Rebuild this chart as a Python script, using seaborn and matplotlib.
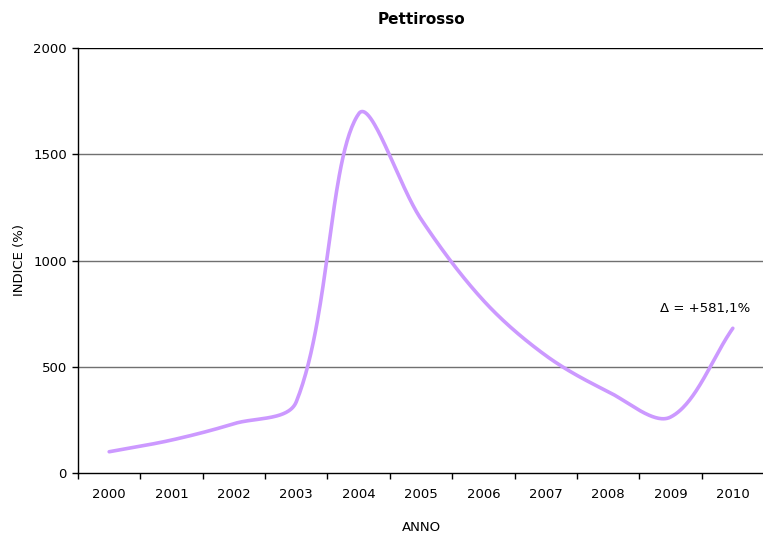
import numpy as np
import pandas as pd
import matplotlib
matplotlib.use("Agg")
import matplotlib.pyplot as plt
import seaborn as sns

# Annual index values for the robin (Pettirosso), base year 2000 = 100
years = ["2000", "2001", "2002", "2003", "2004", "2005",
         "2006", "2007", "2008", "2009", "2010"]
index_values = [100, 155, 232, 335, 1690, 1195, 812, 553, 383, 263, 681.1]
change_label = "\u0394 = +581,1%"

sns.set_theme(style="white")
plt.rcParams["font.family"] = ["DejaVu Sans"]

FIG_W, FIG_H = 763, 537
AX_L, AX_B, AX_W, AX_H = 78, 64, 686, 425
Y_MAX = 2000


def smooth_curve(xv, yv, sx, sy, steps=60):
    """Bezier smoothing through every point, built in screen proportions.

    Control arms follow the neighbour chord and are split in proportion
    to the lengths of the two segments meeting at each point.
    """
    pts = np.column_stack([np.asarray(xv, float) * sx,
                           np.asarray(yv, float) * sy])
    n = len(pts)
    seg_len = np.hypot(*np.diff(pts, axis=0).T)
    out = [pts[0]]
    t = np.linspace(0, 1, steps)[1:, None]
    for i in range(n - 1):
        p0, p3 = pts[i], pts[i + 1]
        d = seg_len[i]
        if i > 0:
            k = d / (seg_len[i - 1] + d)
            c1 = p0 + (p3 - pts[i - 1]) / 3.0 * k
        else:
            c1 = p0 + (p3 - p0) / 3.0
        if i + 2 < n:
            k = d / (d + seg_len[i + 1])
            c2 = p3 - (pts[i + 2] - p0) / 3.0 * k
        else:
            c2 = p3 - (p3 - p0) / 3.0
        seg = ((1 - t) ** 3) * p0 + 3 * ((1 - t) ** 2) * t * c1 \
            + 3 * (1 - t) * t ** 2 * c2 + t ** 3 * p3
        out.extend(seg)
    out = np.array(out)
    return out[:, 0] / sx, out[:, 1] / sy


pos = np.arange(len(years))
px_per_cat = AX_W / len(years)
px_per_unit = AX_H / Y_MAX
cx, cy = smooth_curve(pos, index_values, px_per_cat, px_per_unit)
curve = pd.DataFrame({"pos": cx, "indice": cy})

fig = plt.figure(figsize=(FIG_W / 100, FIG_H / 100), dpi=100)
ax = fig.add_axes([AX_L / FIG_W, AX_B / FIG_H, AX_W / FIG_W, AX_H / FIG_H])

for level in [500, 1000, 1500]:
    ax.axhline(level, color="#707070", linewidth=1.0, zorder=1)
ax.axhline(Y_MAX, color="black", linewidth=1.0, zorder=1)

sns.lineplot(data=curve, x="pos", y="indice", sort=False, ax=ax,
             color="#CC99FF", linewidth=2.6, zorder=3)

ax.set_xlim(-0.5, len(years) - 0.5)
ax.set_ylim(0, Y_MAX)
ax.set_yticks([0, 500, 1000, 1500, 2000])
ax.set_xticks(pos)
ax.set_xticklabels(years)
ax.set_xticks(np.arange(-0.5, len(years), 1.0), minor=True)

for side in ["top", "right"]:
    ax.spines[side].set_visible(False)
for side in ["left", "bottom"]:
    ax.spines[side].set_color("black")
    ax.spines[side].set_linewidth(1.0)

ax.tick_params(axis="x", which="major", length=0, pad=11, labelsize=9.5,
               labelcolor="black")
ax.tick_params(axis="x", which="minor", length=4, width=1, color="black",
               direction="out", bottom=True)
ax.tick_params(axis="y", which="major", length=4, width=1, color="black",
               direction="out", left=True, pad=4, labelsize=9.5,
               labelcolor="black")

ax.set_xlabel("ANNO", fontsize=9.5, color="black", labelpad=14)
ax.set_ylabel("INDICE (%)", fontsize=9.5, color="black", labelpad=5)
ax.set_title("Pettirosso", fontsize=11, fontweight="bold", color="black",
             pad=17)

ax.annotate(change_label, xy=(pos[-1], index_values[-1]),
            xytext=(-20, 14), textcoords="offset points",
            ha="center", va="center", fontsize=9.5, color="black")

fig.savefig("out.png", dpi=100)
